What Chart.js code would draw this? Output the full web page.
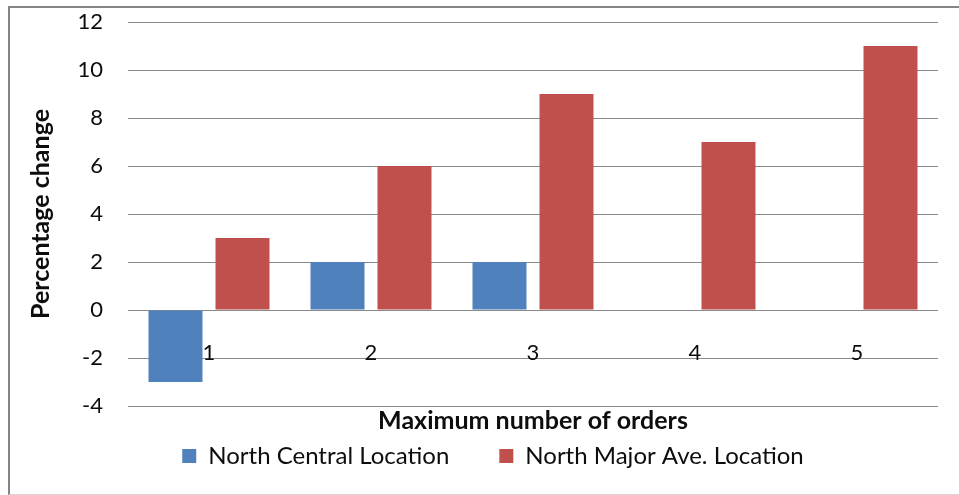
<!DOCTYPE html>
<html>
<head>
<meta charset="utf-8">
<title>Percentage change by maximum number of orders</title>
<script src="https://cdn.jsdelivr.net/npm/chart.js@4.4.1/dist/chart.umd.min.js"></script>
<style>
  html, body { margin: 0; padding: 0; background: #fff; width: 959px; height: 495px; overflow: hidden; }
  #chartBox { position: absolute; left: 0; top: 0; width: 986px; height: 495px; }
  #frame {
    position: absolute; left: 8px; top: 6px; width: 1100px; height: 486px;
    border-left: 2px solid #858585; border-top: 2px solid #858585; border-bottom: 1px solid #d6d6d6;
    pointer-events: none;
  }
</style>
</head>
<body>
<div id="chartBox"><canvas id="chart" width="986" height="495"></canvas></div>
<div id="frame"></div>
<script>
// Data
const categories = ['1', '2', '3', '4', '5'];
const northCentral = [-3, 2, 2, 0, 0];
const northMajorAve = [3, 6, 9, 7, 11];
const seriesLabels = ['North Central Location', 'North Major Ave. Location'];
const yTickRange = { min: -4, max: 12, step: 2 };
const xAxisTitle = 'Maximum number of orders';
const yAxisTitle = 'Percentage change';

const FONT = 'Lato, "Liberation Sans", sans-serif';
const TEXT = '#0d0d0d';

// Legend entries sit far apart horizontally; this keeps that wide gap
// from also pushing the legend row down (the box grows upward instead),
// and centres the row on the whole canvas rather than the padded area.
const LEGEND_ROW_GAP = 8;
const legendRow = {
  id: 'legendRow',
  afterLayout(chart) {
    const lg = chart.legend;
    if (!lg) return;
    lg.top -= lg.options.labels.padding - LEGEND_ROW_GAP;
    lg.height = lg.bottom - lg.top;
    const dx = (chart.width - lg.right - lg.left) / 2;
    lg.left += dx;
    lg.right += dx;
  }
};

new Chart(document.getElementById('chart'), {
  type: 'bar',
  data: {
    labels: categories,
    datasets: [
      { label: seriesLabels[0], data: northCentral, backgroundColor: '#4F81BD', borderWidth: 0 },
      { label: seriesLabels[1], data: northMajorAve, backgroundColor: '#C0504D', borderWidth: 0 }
    ]
  },
  options: {
    responsive: false,
    animation: false,
    devicePixelRatio: 1,
    datasets: { bar: { categoryPercentage: 0.827, barPercentage: 0.806 } },
    layout: { padding: { top: 22, right: 48, bottom: 19, left: 0 } },
    scales: {
      x: {
        grid: { display: false, drawTicks: false },
        border: { display: false },
        // category numbers sit inside the plot, just under the zero line
        ticks: { mirror: true, padding: 40, color: TEXT, font: { family: FONT, size: 22 } },
        title: {
          display: true, text: xAxisTitle, color: TEXT,
          font: { family: FONT, size: 25, weight: 'bold' },
          padding: { top: 0, bottom: 0 }
        },
        afterFit(scale) { scale.height = 30; }
      },
      y: {
        min: yTickRange.min,
        max: yTickRange.max,
        ticks: { stepSize: yTickRange.step, padding: 25, color: TEXT, font: { family: FONT, size: 22 } },
        grid: { color: '#8a8a8a', drawTicks: false },
        border: { display: false },
        title: {
          display: true, text: yAxisTitle, color: TEXT,
          font: { family: FONT, size: 25, weight: 'bold' },
          padding: { top: 26, bottom: 0 }
        },
        afterFit(scale) {
          scale.width = 128;
          scale.paddingTop = 0;
          scale.paddingBottom = 0;
        }
      }
    },
    plugins: {
      legend: {
        position: 'bottom',
        maxHeight: 40,
        labels: {
          boxWidth: 14, boxHeight: 14, padding: 50, color: TEXT,
          font: { family: FONT, size: 24 }
        }
      },
      tooltip: { enabled: false }
    }
  },
  plugins: [legendRow]
});
</script>
</body>
</html>
